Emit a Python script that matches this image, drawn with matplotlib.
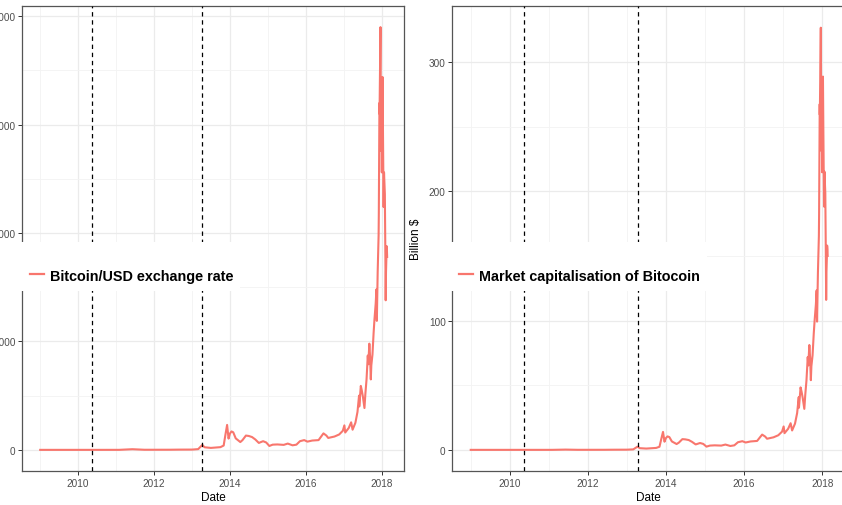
import matplotlib
matplotlib.use('Agg')
import matplotlib.pyplot as plt
import matplotlib.dates as mdates
from matplotlib.lines import Line2D
from matplotlib.patches import Rectangle
import numpy as np
import pandas as pd

plt.rcParams['font.family'] = ['Liberation Sans', 'DejaVu Sans']

# values
dates = [
    '2009-01-03', '2009-07-01', '2010-01-01', '2010-07-17', '2011-02-01', '2011-06-08',
    '2011-10-01', '2012-01-01', '2012-06-01', '2012-09-01', '2013-01-01', '2013-03-01',
    '2013-04-10', '2013-05-01', '2013-07-01', '2013-10-01', '2013-11-01', '2013-11-18',
    '2013-12-04', '2013-12-18', '2013-12-31', '2014-01-15', '2014-02-01', '2014-02-25',
    '2014-04-10', '2014-05-01', '2014-06-03', '2014-07-01', '2014-08-01', '2014-09-01',
    '2014-10-05', '2014-11-15', '2014-12-15', '2015-01-14', '2015-02-15', '2015-04-01',
    '2015-06-01', '2015-07-10', '2015-08-25', '2015-10-01', '2015-11-04', '2015-12-15',
    '2016-01-15', '2016-03-01', '2016-05-01', '2016-06-17', '2016-07-15', '2016-08-02',
    '2016-10-01', '2016-11-15', '2016-12-20', '2017-01-04', '2017-01-12', '2017-02-15',
    '2017-03-10', '2017-03-24', '2017-04-20', '2017-05-10', '2017-05-25', '2017-05-27',
    '2017-06-11', '2017-06-20', '2017-07-01', '2017-07-16', '2017-07-25', '2017-08-05',
    '2017-08-17', '2017-08-22', '2017-09-01', '2017-09-08', '2017-09-15', '2017-09-20',
    '2017-10-01', '2017-10-12', '2017-10-20', '2017-11-01', '2017-11-08', '2017-11-12',
    '2017-11-20', '2017-11-29', '2017-12-01', '2017-12-07', '2017-12-08', '2017-12-12',
    '2017-12-17', '2017-12-22', '2017-12-26', '2017-12-30', '2018-01-06', '2018-01-10',
    '2018-01-16', '2018-01-20', '2018-01-28', '2018-02-02', '2018-02-05', '2018-02-08',
    '2018-02-12', '2018-02-14', '2018-02-17', '2018-02-19',
]
price_usd = [
    0, 0, 0, 0.05, 1, 30,
    5, 5, 6, 11, 13, 34,
    230, 120, 90, 125, 200, 700,
    1150, 520, 750, 850, 810, 530,
    360, 450, 660, 640, 590, 480,
    320, 400, 340, 180, 240, 250,
    230, 290, 210, 240, 400, 450,
    380, 430, 450, 760, 660, 550,
    615, 710, 880, 1130, 800, 1010,
    1270, 930, 1250, 1750, 2500, 2000,
    2950, 2750, 2450, 1930, 2600, 3250,
    4350, 3950, 4900, 4300, 3250, 3900,
    4400, 5400, 6000, 6750, 7400, 5950,
    8200, 9900, 10900, 16000, 15500, 17300,
    19500, 13800, 16100, 12800, 17200, 14600,
    11200, 12800, 11800, 8900, 6900, 8200,
    8900, 9400, 9200, 8900,
]
market_cap_bn = [
    0, 0, 0, 0.0002, 0.005, 0.2,
    0.035, 0.04, 0.055, 0.11, 0.14, 0.37,
    2.5, 1.3, 1.0, 1.5, 2.4, 8.4,
    13.9, 6.3, 9.1, 10.4, 9.9, 6.5,
    4.5, 5.6, 8.3, 8.1, 7.6, 6.2,
    4.2, 5.3, 4.6, 2.5, 3.3, 3.5,
    3.3, 4.1, 3.0, 3.5, 5.9, 6.7,
    5.7, 6.5, 6.9, 11.8, 10.3, 8.6,
    9.7, 11.3, 14.1, 18.1, 12.9, 16.3,
    20.6, 15.0, 20.3, 28.5, 40.8, 32.6,
    48.3, 45.1, 40.2, 31.7, 42.8, 53.6,
    71.8, 65.3, 81.1, 71.3, 53.9, 64.7,
    73.1, 89.8, 99.8, 112.4, 123.3, 99.2,
    136.8, 165.4, 182.1, 267.4, 259.2, 289.4,
    326.5, 231.3, 270.0, 214.7, 288.7, 245.2,
    188.2, 215.2, 198.6, 149.9, 116.0, 138.0,
    150.0, 158.0, 155.0, 150.0,
]
event_dates = ['2010-05-18', '2013-04-10']
legend_labels = ['Bitcoin/USD exchange rate', 'Market capitalisation of Bitocoin']

x = pd.to_datetime(dates)
ev = pd.to_datetime(event_dates)
line_col = '#F8766D'

W, H = 842, 506
fig = plt.figure(figsize=(W / 100, H / 100), dpi=100)


def px_axes(x0, x1, y0, y1):
    return fig.add_axes([x0 / W, (H - y1) / H, (x1 - x0) / W, (y1 - y0) / H])


ax1 = px_axes(22, 404, 7, 472)
ax2 = px_axes(452, 845, 7, 472)

xmin = pd.Timestamp('2008-07-12')
xmax = pd.Timestamp('2018-07-31')
minor_years = mdates.date2num(pd.to_datetime(['2009-01-01', '2011-01-01', '2013-01-01',
                                              '2015-01-01', '2017-01-01']))

for ax, vals, ylim, major, minor in [
        (ax1, price_usd, (-975, 20475), np.arange(0, 20001, 5000), np.arange(2500, 20000, 5000)),
        (ax2, market_cap_bn, (-16.35, 343.3), np.arange(0, 301, 100), np.arange(50, 340, 100))]:
    ax.plot(x, vals, color=line_col, lw=1.5, zorder=3)
    for d in ev:
        ax.axvline(d, color='black', lw=0.9, ls=(0, (3.5, 3)), zorder=4)
    ax.set_xlim(xmin, xmax)
    ax.set_ylim(*ylim)
    ax.xaxis.set_major_locator(mdates.YearLocator(2))
    ax.xaxis.set_major_formatter(mdates.DateFormatter('%Y'))
    ax.xaxis.set_minor_locator(matplotlib.ticker.FixedLocator(minor_years))
    ax.set_yticks(major)
    ax.set_yticks(minor, minor=True)
    ax.grid(which='major', color='#ebebeb', lw=0.9, zorder=0)
    ax.grid(which='minor', color='#f3f3f3', lw=0.6, zorder=0)
    ax.set_axisbelow(True)
    ax.tick_params(which='major', length=2.75, width=0.7, color='#333333',
                   labelsize=7.2, labelcolor='#4d4d4d', pad=2.5)
    ax.tick_params(axis='y', which='major', pad=1.8)
    ax.tick_params(which='minor', length=0)
    for s in ax.spines.values():
        s.set_color('#555555')
        s.set_linewidth(0.9)
    ax.set_xlabel('Date', fontsize=8.5, labelpad=2)

ax2.set_ylabel('Billion $', fontsize=8.5)
ax2.yaxis.set_label_coords((422 - 452) / (845 - 452), 0.5)

# white legend strips laid over both panels
for (bx0, bx1), label, tx in [((0, 240), legend_labels[0], 30),
                              ((430, 707), legend_labels[1], 459)]:
    fig.add_artist(Rectangle((bx0 / W, (H - 292) / H), (bx1 - bx0) / W, 49 / H,
                             transform=fig.transFigure, facecolor='white',
                             edgecolor='none', zorder=5))
    fig.legend([Line2D([], [], color=line_col, lw=1.6)], [label],
               loc='center left', bbox_to_anchor=(tx / W, (H - 276.5) / H),
               frameon=False, borderpad=0, borderaxespad=0, handlelength=0.95,
               handletextpad=0.4, prop={'weight': 'bold', 'size': 10.4}).set_zorder(6)

fig.savefig('out.png', dpi=100)
